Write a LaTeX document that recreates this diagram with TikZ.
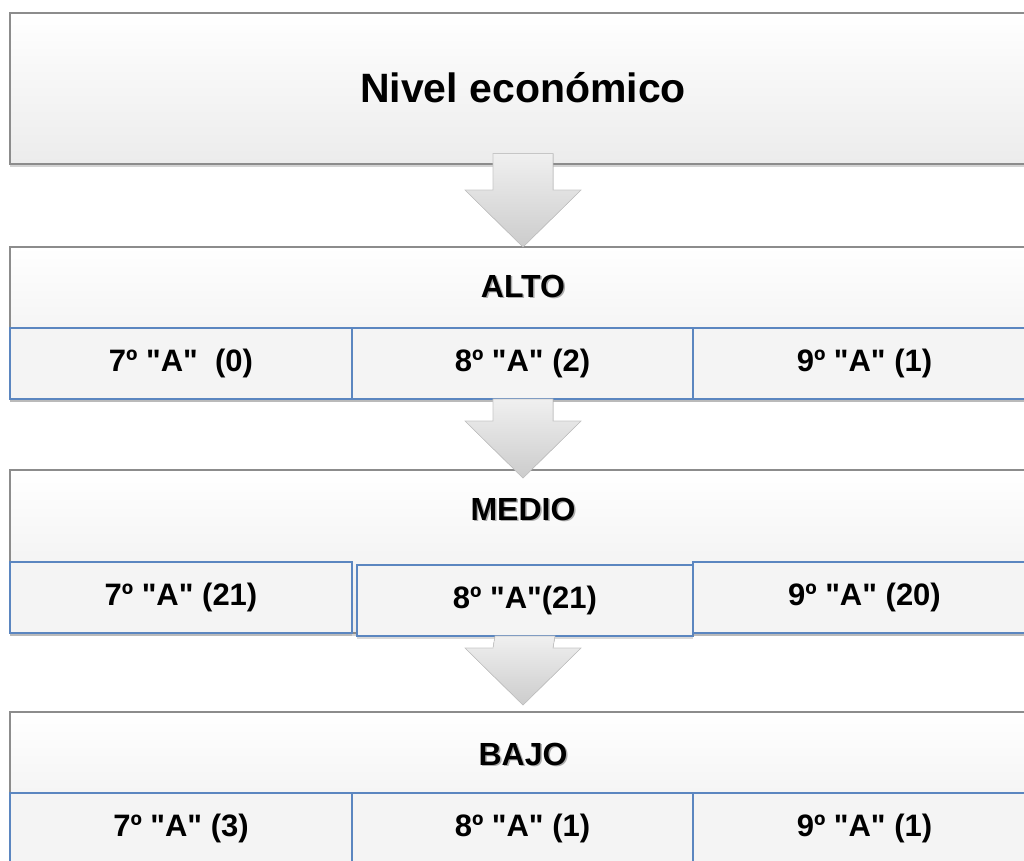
\documentclass[tikz,border=0pt]{standalone}
\usepackage{fontspec}
\setmainfont{Liberation Sans}
\usetikzlibrary{positioning,shadows,calc}

\definecolor{borda}{RGB}{140,140,140}
\definecolor{azul}{RGB}{91,134,192}
\definecolor{fundo}{RGB}{244,244,244}

% aspas retas
\newcommand{\q}{\textquotedbl}
% sombra cinza atras do texto dos niveis
\newcommand{\sombra}[1]{\rlap{\hspace{1.5pt}\raisebox{-1.5pt}{\textcolor{gray!65}{#1}}}#1}

% seta em bloco: #1 origem, #2 destino, #3 recuo no topo, #4 avanco da ponta
\newcommand{\flecha}[4]{%
  \path ($(#1.south)+(0,#3)$) coordinate (f-a) ($(#2.north)+(0,-#4)$) coordinate (f-b);
  \filldraw[seta] ($(f-a)+(-30,0)$) -- ($(f-a)+(30,0)$) -- ($(f-b)+(30,57)$) -- ($(f-b)+(58,57)$)
    -- (f-b) -- ($(f-b)+(-58,57)$) -- ($(f-b)+(-30,57)$) -- cycle;
}

\tikzset{
  caja/.style={draw=borda, line width=2pt, minimum width=1026pt, inner sep=0pt, outer sep=0pt,
    top color=white, bottom color=gray!15,
    drop shadow={shadow xshift=0pt, shadow yshift=-3pt, opacity=0.35, fill=gray}},
  celda/.style={draw=azul, line width=2.5pt, fill=fundo, minimum width=342pt, minimum height=71pt,
    inner sep=0pt, outer sep=0pt, font=\fontsize{31}{36}\selectfont\bfseries,
    drop shadow={shadow xshift=0pt, shadow yshift=-3pt, opacity=0.3, fill=gray}},
  rotulo/.style={font=\fontsize{32}{38}\selectfont\bfseries},
  seta/.style={top color=gray!12, bottom color=gray!40, draw=gray!45, line width=0.6pt},
}

\begin{document}
\begin{tikzpicture}[x=1pt, y=1pt]
    \useasboundingbox (0,0) rectangle (1024,-860);
    \clip (0,0) rectangle (1024,-860);

    % Titulo
    \node[caja, minimum height=151pt, font=\fontsize{41}{48}\selectfont\bfseries] (titulo) at (523,-88) {Nivel económico};

    % Nivel alto
    \node[caja, minimum height=152pt] (alto) at (523,-323) {};
    \node[rotulo] (alto-t) at ($(alto.north)+(0,-40)$) {\sombra{ALTO}};
    \node[celda, anchor=south west] (alto7) at (alto.south west) {7º \q A\q\ \ (0)};
    \node[celda, right=0pt of alto7, minimum width=341pt] (alto8) {8º \q A\q\ (2)};
    \node[celda, right=0pt of alto8, minimum width=343pt] (alto9) {9º \q A\q\ (1)};

    \flecha{titulo}{alto}{10}{0}

    % Nivel medio
    \node[caja, minimum height=163pt] (medio) at (523,-551.5) {};
    \node[rotulo] (medio-t) at ($(medio.north)+(0,-40)$) {\sombra{MEDIO}};
    \node[celda, anchor=south west] (medio7) at (medio.south west) {7º \q A\q\ (21)};
    \node[celda, anchor=south west, minimum width=336pt] (medio8) at ($(medio7.south east)+(5,-3)$) {8º \q A\q(21)};
    \node[celda, anchor=south west, minimum width=343pt] (medio9) at ($(medio7.south east)+(341,0)$) {9º \q A\q\ (20)};

    \flecha{alto}{medio}{0}{8}

    % Nivel bajo
    \node[caja, minimum height=152pt] (bajo) at (523,-788) {};
    \node[rotulo] (bajo-t) at ($(bajo.north)+(0,-43)$) {\sombra{BAJO}};
    \node[celda, anchor=south west] (bajo7) at (bajo.south west) {7º \q A\q\ (3)};
    \node[celda, right=0pt of bajo7, minimum width=341pt] (bajo8) {8º \q A\q\ (1)};
    \node[celda, right=0pt of bajo8, minimum width=343pt] (bajo9) {9º \q A\q\ (1)};

    \flecha{medio8}{bajo}{0}{-7}
\end{tikzpicture}
\end{document}
